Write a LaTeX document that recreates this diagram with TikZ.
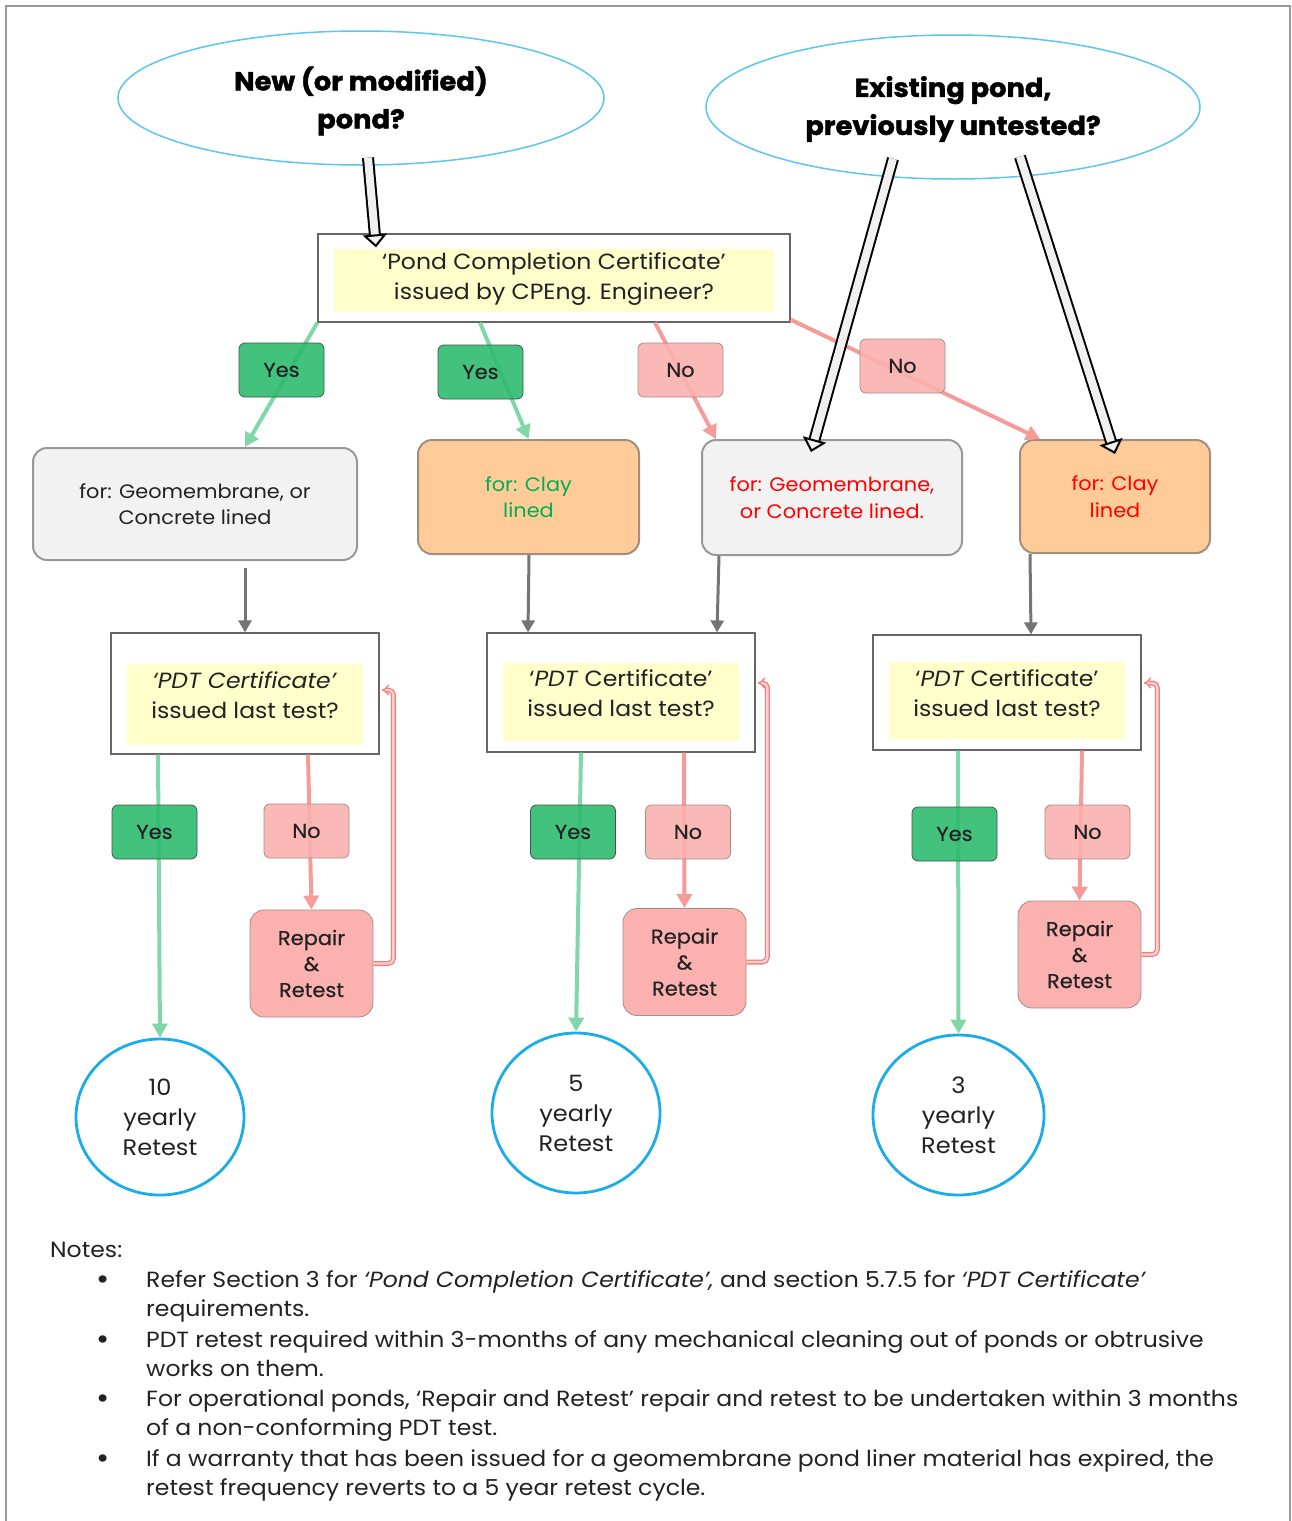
\documentclass[tikz,border=0pt]{standalone}
\usepackage{fontspec}
\setmainfont{Poppins}[FakeStretch=1.07]
\newfontfamily\heavyfont{Poppins}[FakeStretch=1.05, FakeBold=1.6]
\newfontfamily\midfont{Poppins}[FakeStretch=1.05, FakeBold=0.5]
\usetikzlibrary{shapes.geometric,arrows.meta}

\definecolor{skyline}{HTML}{5BC6EE}
\definecolor{ringblue}{HTML}{1AACE8}
\definecolor{hilite}{HTML}{FFFFCC}
\definecolor{yesfill}{HTML}{2FBB70}
\definecolor{yesedge}{HTML}{3E5A48}
\definecolor{yesline}{HTML}{80D8A8}
\definecolor{nofill}{HTML}{FAB1AF}
\definecolor{noedge}{HTML}{A88A88}
\definecolor{noline}{HTML}{F59C98}
\definecolor{loopred}{HTML}{F27E7A}
\definecolor{lightfill}{HTML}{F2F2F2}
\definecolor{edgegray}{HTML}{999999}
\definecolor{clayfill}{HTML}{FFCC99}
\definecolor{clayedge}{HTML}{A08E7E}
\definecolor{framegray}{HTML}{666666}
\definecolor{inkgray}{HTML}{222222}
\definecolor{linkgray}{HTML}{757575}
\definecolor{warnred}{HTML}{FF0000}
\definecolor{okgreen}{HTML}{00B050}

\tikzset{
  asks/.style={ellipse, draw=skyline, line width=1.5pt, minimum width=486pt, minimum height=134pt},
  asklabel/.style={align=center, inner sep=0pt, text=black, font=\heavyfont\bfseries\fontsize{26}{38}\selectfont},
  outerbox/.style={draw=framegray, line width=1.2pt, fill=white, inner sep=0pt},
  hlbox/.style={fill=hilite, inner sep=0pt},
  asktext/.style={align=center, inner sep=0pt, text=inkgray, font=\fontsize{22}{30}\selectfont},
  liner/.style={draw=edgegray, line width=2pt, rounded corners=14pt, fill=lightfill, align=center,
    inner sep=0pt, text=inkgray, font=\fontsize{19.5}{26.5}\selectfont},
  clay/.style={liner, draw=clayedge, fill=clayfill},
  yes/.style={draw=yesedge, line width=0.8pt, fill=yesfill, fill opacity=0.9, text opacity=1,
    rounded corners=6pt, minimum width=85pt, minimum height=54pt, inner sep=0pt, text=inkgray,
    font=\midfont\fontsize{20}{24}\selectfont},
  no/.style={yes, draw=noedge, fill=nofill},
  repair/.style={draw=noedge, line width=0.8pt, fill=nofill, rounded corners=14pt, minimum width=123pt,
    minimum height=107pt, align=center, inner sep=0pt, text=inkgray, font=\midfont\fontsize{20}{26}\selectfont},
  ring/.style={ellipse, draw=ringblue, line width=2.8pt, align=center, inner sep=0pt, text=inkgray,
    font=\fontsize{22.5}{30}\selectfont},
  yesarrow/.style={draw=yesline, line width=4pt, -{Triangle[length=14pt,width=15pt]}},
  noarrow/.style={yesarrow, draw=noline},
  downarrow/.style={draw=linkgray, line width=3pt, -{Triangle[length=12pt,width=13pt]}},
  loopback/.style={draw=loopred, line width=1.3pt, double=nofill!60, double distance=2.4pt,
    rounded corners=5pt, -{Implies}},
  hollow/.style={draw=black, line width=2pt, double=gray!12, double distance=8pt,
    -{Triangle[open, fill=gray!12, length=13pt, width=24pt, line width=2pt]}},
  note/.style={anchor=base west, inner sep=0pt, text=inkgray, font=\fontsize{22}{30}\selectfont},
  dot/.style={anchor=base, inner sep=0pt, text=inkgray, font=\fontsize{30}{30}\selectfont}
}

\begin{document}
\begin{tikzpicture}[x=1pt, y=-1pt]
  \useasboundingbox (0,0) rectangle (1292,1521);
  \draw[color=edgegray, line width=1.5pt] (6,1521) -- (6,6) -- (1290,6) -- (1290,1521);

  \node[asks] (newpond) at (361,98) {};
  \node[asklabel] (newpondtext) at (361,101) {New (or modified)\\pond?};
  \node[asks, minimum width=494pt, minimum height=144pt] (oldpond) at (953,107) {};
  \node[asklabel] (oldpondtext) at (953,109) {Existing pond,\\previously untested?};

  \node[outerbox, minimum width=472pt, minimum height=88pt] (pcc) at (554,278) {};
  \node[hlbox, minimum width=440pt, minimum height=63pt] (pcchl) at (554,280.5) {};
  \node[asktext] (pcctext) at (554,279) {‘Pond Completion Certificate’\\issued by CPEng. Engineer?};

  \node[liner, minimum width=324pt, minimum height=112pt] (geo1) at (195,504) {for: Geomembrane, or\\Concrete lined};
  \node[clay, minimum width=221pt, minimum height=114pt, text=okgreen] (clay1) at (528.5,497) {for: Clay\\lined};
  \node[liner, minimum width=260pt, minimum height=115pt, text=warnred] (geo2) at (832,497.5) {for: Geomembrane,\\or Concrete lined.};
  \node[clay, minimum width=190pt, minimum height=113pt, text=warnred] (clay2) at (1115,496.5) {for: Clay\\lined};

  \node[outerbox, minimum width=268pt, minimum height=121pt] (pdt1) at (245,693.5) {};
  \node[hlbox, minimum width=236pt, minimum height=81pt] (pdt1hl) at (245,704.5) {};
  \node[asktext] (pdt1text) at (245,695) {\textit{‘PDT Certificate’}\\issued last test?};

  \node[outerbox, minimum width=268pt, minimum height=119pt] (pdt2) at (621,692.5) {};
  \node[hlbox, minimum width=236pt, minimum height=78pt] (pdt2hl) at (621,702) {};
  \node[asktext] (pdt2text) at (621,693) {‘\textit{PDT} Certificate’\\issued last test?};

  \node[outerbox, minimum width=268pt, minimum height=115pt] (pdt3) at (1007,692.5) {};
  \node[hlbox, minimum width=236pt, minimum height=77pt] (pdt3hl) at (1007,700.5) {};
  \node[asktext] (pdt3text) at (1007,693) {‘\textit{PDT} Certificate’\\issued last test?};

  \node[repair] (rep1) at (311.5,963.5) {Repair\\\&\\Retest};
  \node[repair] (rep2) at (684.5,962) {Repair\\\&\\Retest};
  \node[repair] (rep3) at (1079.5,954.5) {Repair\\\&\\Retest};

  \node[ring, minimum width=168pt, minimum height=156pt] (ring1) at (160,1117) {10\\yearly\\Retest};
  \node[ring, minimum width=168pt, minimum height=160pt] (ring2) at (576,1113) {5\\yearly\\Retest};
  \node[ring, minimum width=171pt, minimum height=160pt] (ring3) at (958.5,1115) {3\\yearly\\Retest};

  \draw[yesarrow] (pcc.south west) -- ([xshift=50pt]geo1.north);
  \draw[yesarrow] ([xshift=-74pt]pcc.south) -- (clay1.north);
  \draw[noarrow] ([xshift=101pt]pcc.south) -- ([xshift=-116pt]geo2.north);
  \draw[noarrow] ([yshift=3pt]pcc.south east) -- ([xshift=-75pt]clay2.north);

  \draw[downarrow] ([xshift=50pt,yshift=-7pt]geo1.south) -- (pdt1.north);
  \draw[downarrow] ([xshift=0.5pt]clay1.south) -- ([xshift=-93pt]pdt2.north);
  \draw[downarrow] ([xshift=-113pt]geo2.south) -- ([xshift=96pt]pdt2.north);
  \draw[downarrow] ([xshift=-85pt]clay2.south) -- ([xshift=24pt]pdt3.north);

  \draw[yesarrow] ([xshift=-87pt]pdt1.south) -- (ring1.north);
  \draw[yesarrow] ([xshift=-40pt]pdt2.south) -- (ring2.north);
  \draw[yesarrow] ([xshift=-49pt]pdt3.south) -- (ring3.north);
  \draw[noarrow] ([xshift=63pt]pdt1.south) -- (rep1.north);
  \draw[noarrow] ([xshift=63pt]pdt2.south) -- (rep2.north);
  \draw[noarrow] ([xshift=75pt]pdt3.south) -- (rep3.north);

  \draw[loopback] (rep1.east) -- ++(20,0) |- ([xshift=2pt,yshift=3.5pt]pdt1.east);
  \draw[loopback] (rep2.east) -- ++(21,0) |- ([xshift=2pt,yshift=9.5pt]pdt2.east);
  \draw[loopback] (rep3.east) -- ++(16,0) |- ([xshift=2pt,yshift=9.5pt]pdt3.east);

  \node[yes] (yes1) at (281.5,370) {Yes};
  \node[yes] (yes2) at (480.5,372) {Yes};
  \node[no] (no1) at (680.5,370) {No};
  \node[no] (no2) at (902.5,366) {No};
  \node[yes] (yes3) at (154.5,832) {Yes};
  \node[no] (no3) at (306.5,831) {No};
  \node[yes] (yes4) at (573,832) {Yes};
  \node[no] (no4) at (688,832) {No};
  \node[yes] (yes5) at (954.5,834) {Yes};
  \node[no] (no5) at (1087.5,832) {No};

  \draw[hollow] ([xshift=7pt,yshift=8pt]newpond.south) -- ([xshift=-178pt,yshift=-14pt]pcc.north);
  \draw[hollow] ([xshift=-60pt,yshift=21pt]oldpond.south) -- ([xshift=-21pt,yshift=-13pt]geo2.north);
  \draw[hollow] ([xshift=67pt,yshift=23pt]oldpond.south) -- ([yshift=-15pt]clay2.north);

  \node[note] (notes) at (50,1257) {Notes:};
  \node[dot] (dot1) at (103,1289) {•};
  \node[dot] (dot2) at (103,1349) {•};
  \node[dot] (dot3) at (103,1408) {•};
  \node[dot] (dot4) at (103,1468) {•};
  \node[note] (line1) at (146,1287) {Refer Section 3 for \textit{‘Pond Completion Certificate’,} and section 5.7.5 for \textit{‘PDT Certificate’}};
  \node[note] (line2) at (146,1316) {requirements.};
  \node[note] (line3) at (146,1347) {PDT retest required within 3-months of any mechanical cleaning out of ponds or obtrusive};
  \node[note] (line4) at (146,1376) {works on them.};
  \node[note] (line5) at (146,1406) {For operational ponds, ‘Repair and Retest’ repair and retest to be undertaken within 3 months};
  \node[note] (line6) at (146,1435) {of a non-conforming PDT test.};
  \node[note] (line7) at (146,1466) {If a warranty that has been issued for a geomembrane pond liner material has expired, the};
  \node[note] (line8) at (146,1495) {retest frequency reverts to a 5 year retest cycle.};
\end{tikzpicture}
\end{document}
